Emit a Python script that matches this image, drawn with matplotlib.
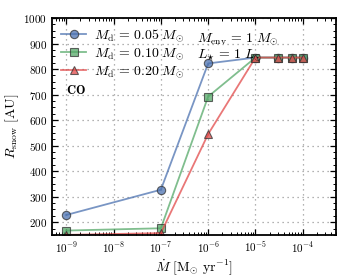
import math
import matplotlib
matplotlib.use("Agg")
import matplotlib.pyplot as plt
from matplotlib.ticker import MultipleLocator, LogLocator, NullFormatter, FuncFormatter

plt.rcParams['mathtext.fontset'] = 'cm'
plt.rcParams['font.family'] = ['DejaVu Serif']

mdot = [1e-9, 1e-7, 1e-6, 1e-5, 3e-5, 6e-5, 1e-4]
r_005 = [228, 327, 822, 845, 845, 845, 845]
r_010 = [167, 176, 692, 845, 845, 845, 845]
r_020 = [150, 157, 545, 845, 845, 845, 845]
labels = [r'$M_{\rm d}\,=\,0.05\;M_{\odot}$',
          r'$M_{\rm d}\,=\,0.10\;M_{\odot}$',
          r'$M_{\rm d}\,=\,0.20\;M_{\odot}$']
yticks = [200, 300, 400, 500, 600, 700, 800, 900, 1000]
xticks = [1e-9, 1e-8, 1e-7, 1e-6, 1e-5, 1e-4]

fig = plt.figure(figsize=(3.47, 2.77), dpi=100)
ax = fig.add_axes([0.15, 0.152, 0.818, 0.783])

styles = [('#4c72b0', 'o'), ('#55a868', 's'), ('#e24a4a', '^')]
for ys, (c, m), lab in zip([r_005, r_010, r_020], styles, labels):
    ax.plot(mdot, ys, color=c, alpha=0.75, lw=1.3, marker=m, ms=6,
            mfc=c, mec='#333333', mew=0.8, label=lab)

ax.set_xscale('log')
ax.set_xlim(10**-9.3, 10**-3.3)
ax.set_ylim(150, 1000)
ax.set_yticks(yticks)
ax.yaxis.set_minor_locator(MultipleLocator(25))
ax.set_xticks(xticks)
ax.xaxis.set_minor_locator(LogLocator(base=10, subs=range(2, 10), numticks=20))
ax.xaxis.set_minor_formatter(NullFormatter())
ax.yaxis.set_major_formatter(FuncFormatter(lambda v, p: r'$\mathbf{%d}$' % v))
ax.xaxis.set_major_formatter(FuncFormatter(
    lambda v, p: r'$\mathbf{10^{%d}}$' % round(math.log10(v))))

ax.grid(True, which='major', ls=(0, (1, 3)), color='#999999', lw=0.9)
ax.tick_params(which='both', direction='in', top=True, right=True, labelsize=8)
ax.tick_params(which='major', length=4, width=0.9)
ax.tick_params(which='minor', length=2, width=0.7)
for s in ax.spines.values():
    s.set_linewidth(1.3)

ax.set_xlabel(r'$\dot{M}\ [{\rm M_{\odot}\ yr^{-1}}]$', fontsize=10, labelpad=2)
ax.set_ylabel(r'$R_{\rm snow}\ [{\rm AU}]$', fontsize=10, labelpad=2)

ax.legend(loc='upper left', frameon=False, fontsize=10, handlelength=1.8,
          borderaxespad=0.25, labelspacing=0.15, handletextpad=0.6,
          bbox_to_anchor=(0.0, 1.0))
ax.text(0.51, 0.905, r'$M_{\rm env}\,=\,1\;M_{\odot}$', transform=ax.transAxes,
        fontsize=10, va='center')
ax.text(0.51, 0.83, r'$L_{\star}\,=\,1\;L_{\odot}$', transform=ax.transAxes,
        fontsize=10, va='center')
ax.text(0.05, 0.665, r'$\mathbf{CO}$', transform=ax.transAxes, fontsize=9,
        va='center')

fig.savefig('out.png', dpi=100)
